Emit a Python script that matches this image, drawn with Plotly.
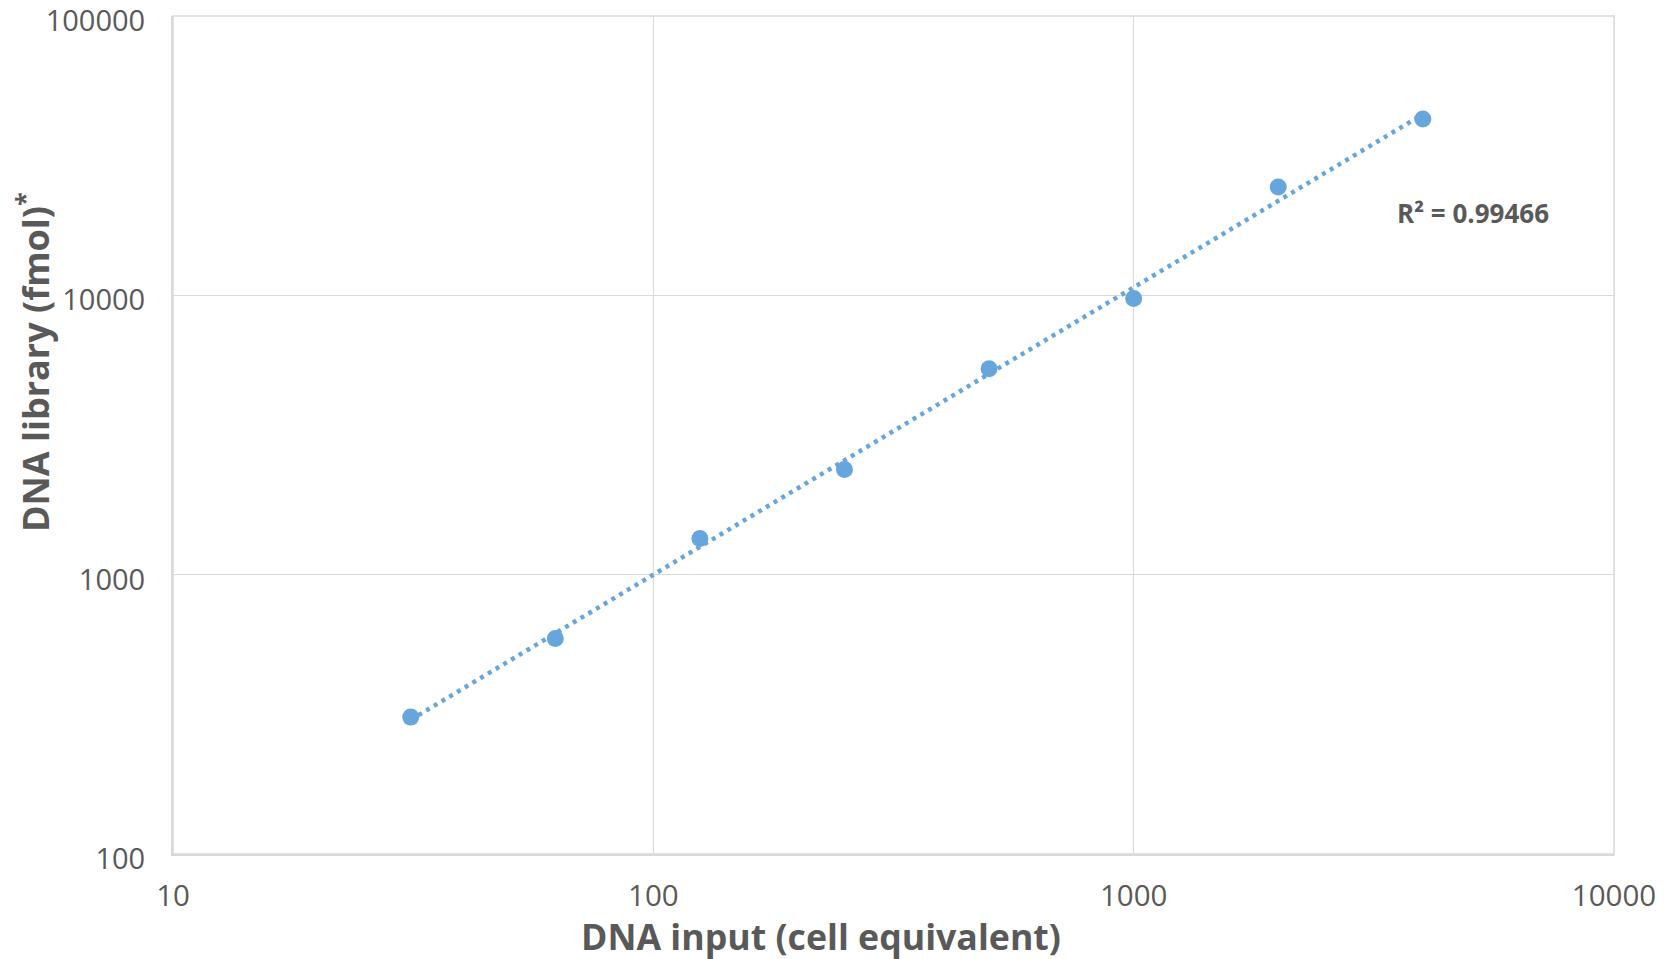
import numpy as np
import plotly.graph_objects as go

dna_input = [31.25, 62.5, 125, 250, 500, 1000, 2000, 4000]
dna_library = [309, 591, 1347, 2379, 5465, 9740, 24430, 42780]
x_ticks = [10, 100, 1000, 10000]
y_ticks = [100, 1000, 10000, 100000]
r2_label = "R² = 0.99466"
x_title = "DNA input (cell equivalent)"
y_title = "DNA library (fmol)<sup>*</sup>"

BLUE = "#66A6DC"
GRAY = "#595959"
GRID = "#D9D9D9"

lx = np.log10(dna_input)
ly = np.log10(dna_library)
slope, intercept = np.polyfit(lx, ly, 1)
trend_x = [dna_input[0], dna_input[-1]]
trend_y = [10 ** (intercept + slope * np.log10(v)) for v in trend_x]

fig = go.Figure()
fig.add_trace(go.Scatter(x=trend_x, y=trend_y, mode="lines",
                         line=dict(color=BLUE, width=4.5, dash="4px,5px"),
                         showlegend=False, hoverinfo="skip"))
fig.add_trace(go.Scatter(x=dna_input, y=dna_library, mode="markers",
                         marker=dict(color=BLUE, size=17),
                         showlegend=False))

fig.add_annotation(x=np.log10(5090), y=np.log10(19700), xref="x", yref="y",
                   text=r2_label, showarrow=False, xanchor="center", yanchor="middle",
                   font=dict(family="Open Sans", size=26, color=GRAY, weight="bold"))
fig.add_annotation(x=0.45, y=0, xref="paper", yref="paper", yshift=-82,
                   text=x_title, showarrow=False, xanchor="center", yanchor="middle",
                   font=dict(family="Open Sans", size=35.7, color=GRAY, weight="bold"))
fig.add_annotation(x=0, y=0.587, xref="paper", yref="paper", xshift=-140,
                   text=y_title, showarrow=False, textangle=-90,
                   xanchor="center", yanchor="middle",
                   font=dict(family="Open Sans", size=36, color=GRAY, weight="bold"))

fig.update_xaxes(type="log", range=[0.9999, 4.0001], tickvals=x_ticks,
                 ticktext=[str(v) for v in x_ticks],
                 showgrid=True, gridcolor=GRID, gridwidth=1.3,
                 showline=True, linecolor=GRID, linewidth=2, mirror=False,
                 zeroline=False, ticks="", ticklabelstandoff=15, automargin=False,
                 ticklabeloverflow="allow",
                 tickfont=dict(family="Open Sans", size=29.5, color=GRAY))
fig.update_yaxes(type="log", range=[1.9999, 5.0001], tickvals=y_ticks,
                 ticktext=[str(v) for v in y_ticks],
                 showgrid=True, gridcolor=GRID, gridwidth=1.3,
                 showline=True, linecolor=GRID, linewidth=2,
                 zeroline=False, ticks="", ticklabelstandoff=20, automargin=False,
                 ticklabeloverflow="allow", ticklabelshift=5,
                 tickfont=dict(family="Open Sans", size=29, color=GRAY))

fig.update_layout(width=1657, height=951, autosize=False,
                  paper_bgcolor="white", plot_bgcolor="white",
                  margin=dict(l=165, r=51, t=8, b=105),
                  shapes=[dict(type="rect", xref="paper", yref="paper", x0=0, y0=0, x1=1, y1=1,
                               line=dict(color=GRID, width=1.5), layer="below")])

fig.write_html("out.html")
